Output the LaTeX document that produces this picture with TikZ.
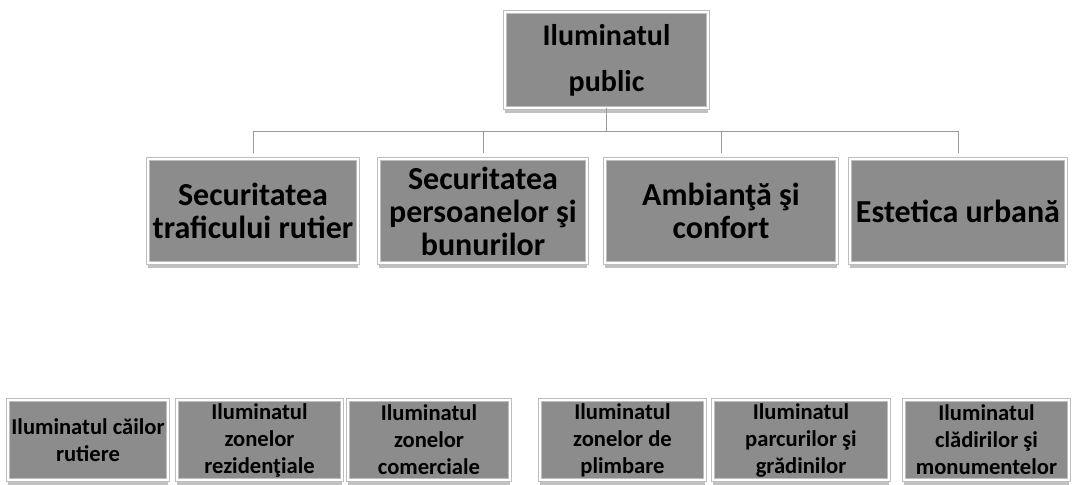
\documentclass[tikz,border=0pt]{standalone}
\usepackage{fontspec}
\setmainfont{Carlito}
\usetikzlibrary{shadows}

\definecolor{boxgray}{RGB}{140,140,140}
\definecolor{framegray}{RGB}{190,190,190}

\begin{document}
\begin{tikzpicture}[x=0.5pt, y=-0.5pt, % coordonate in pixeli, y in jos
    box/.style={draw=framegray, double=white, double distance=1.2pt,
      fill=boxgray, inner sep=0pt, align=center, font=\bfseries,
      drop shadow={shadow xshift=0pt, shadow yshift=-2.5pt,
        fill=gray!60, opacity=0.8}},
    radacina/.style={box, minimum width=101.5pt, minimum height=48pt,
      font=\bfseries\fontsize{15}{23}\selectfont},
    ramura/.style={box, minimum height=52pt,
      font=\bfseries\fontsize{16}{16.5}\selectfont},
    frunza/.style={box, minimum height=40pt,
      font=\bfseries\fontsize{11.3}{13.5}\selectfont},
    legatura/.style={draw=gray!80, line width=0.4pt}]
  \useasboundingbox (0,0) rectangle (1075,484);

  % radacina
  \node[radacina] (iluminat) at (606.5,60) {Iluminatul\\public};
  \coordinate (bara) at (606.5,131);

  % primul nivel
  \node[ramura, minimum width=105pt] (s1) at (253,211)
    {Securitatea\\traficului rutier};
  \node[ramura, minimum width=104pt] (s2) at (483,211)
    {Securitatea\\persoanelor şi\\bunurilor};
  \node[ramura, minimum width=116pt] (s3) at (721,211)
    {Ambianţă şi\\confort};
  \node[ramura, minimum width=108pt] (s4) at (958,211)
    {Estetica urbană};

  \draw[legatura] (iluminat.south) -- (bara);
  \foreach \i in {1,...,4} {
    \draw[legatura, shorten >=3pt] (bara) -| (s\i.north);
  }

  % al doilea nivel
  \foreach \x/\w/\t [count=\i] in {
      88/80/{Iluminatul căilor\\rutiere},
      259.5/82.5/{Iluminatul\\zonelor\\rezidenţiale},
      429/81/{Iluminatul\\zonelor\\comerciale},
      622.5/82.5/{Iluminatul\\zonelor de\\plimbare},
      801/88/{Iluminatul\\parcurilor şi\\grădinilor},
      986.5/82.5/{Iluminatul\\clădirilor şi\\monumentelor}} {
    \node[frunza, minimum width=\w pt] (c\i) at (\x,440) {\t};
  }
\end{tikzpicture}
\end{document}
